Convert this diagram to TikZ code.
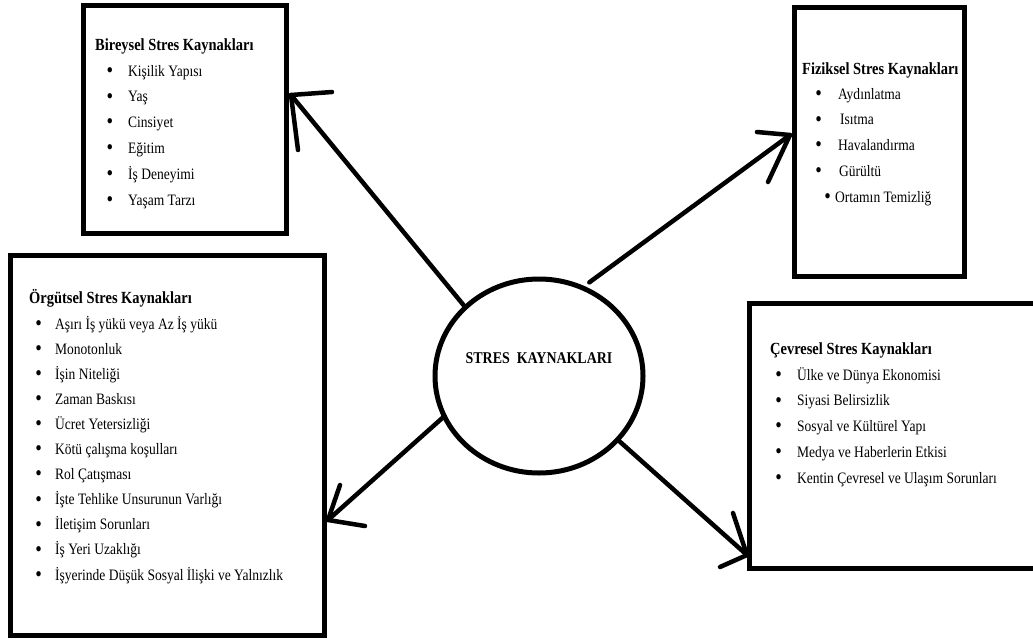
\documentclass[tikz,border=0pt]{standalone}
\usepackage{fontspec}
\setmainfont{Liberation Serif}[FakeStretch=0.85]
\newcommand{\bul}{\raisebox{-1.3pt}{\fontsize{22}{22}\selectfont •}}
\begin{document}
\begin{tikzpicture}[x=1pt,y=-1pt,
  box/.style={draw, line width=5pt, rectangle, inner sep=0pt, outer sep=0pt},
  ring/.style={draw, ellipse, line width=5pt, inner sep=0pt, outer sep=0pt},
  titletext/.style={anchor=base west, inner sep=0pt, font=\bfseries\fontsize{17}{20}\selectfont},
  itemtext/.style={anchor=base west, inner sep=0pt, font=\fontsize{15.9}{19}\selectfont},
  centertext/.style={anchor=base, inner sep=0pt, font=\bfseries\fontsize{16.4}{19}\selectfont},
  shaft/.style={line width=4.5pt, line cap=round},
  barb/.style={line width=4.5pt, line cap=round, line join=round}]
\usetikzlibrary{shapes.geometric}
\clip (0,0) rectangle (1033,640);
\fill[white] (0,0) rectangle (1033,640);

% boxes
\node[box, minimum width=202.5pt, minimum height=228pt] (b1) at (184.75,119.5) {};
\node[box, minimum width=170pt, minimum height=268.5pt] (b2) at (879.5,141.75) {};
\node[box, minimum width=314pt, minimum height=380pt] (b3) at (167.5,445.5) {};
\node[box, minimum width=295.5pt, minimum height=265pt] (b4) at (897.25,435.75) {};

% centre
\node[ring, minimum width=208pt, minimum height=194pt] (c) at (539,376) {};
\node[centertext] (ct) at (539,363) {STRES\ \ KAYNAKLARI};

% Bireysel
\node[titletext] (b1t) at (95,50) {Bireysel Stres Kaynakları};
\foreach \t [count=\i] in {Kişilik Yapısı, Yaş, Cinsiyet, Eğitim, İş Deneyimi, Yaşam Tarzı}
  \node[itemtext] (b1-\i) at (106.5,{76+25.8*(\i-1)}) {\makebox[21.5pt][l]{\bul}\t};

% Fiziksel
\node[titletext] (b2t) at (802,74) {Fiziksel Stres Kaynakları};
\foreach \bx/\w/\t [count=\i] in {815.1/22.9/Aydınlatma, 815.1/24.9/Isıtma, 815.1/22.9/Havalandırma, 815.1/23.9/Gürültü, 824.1/10.9/Ortamın Temizliğ}
  \node[itemtext] (b2-\i) at (\bx,{99+25.8*(\i-1)}) {\makebox[\w pt][l]{\bul}\t};

% Orgutsel
\node[titletext] (b3t) at (29,303) {Örgütsel Stres Kaynakları};
\foreach \t [count=\i] in {Aşırı İş yükü veya Az İş yükü, Monotonluk, İşin Niteliği, Zaman Baskısı, Ücret Yetersizliği, Kötü çalışma koşulları, Rol Çatışması, İşte Tehlike Unsurunun Varlığı, İletişim Sorunları, İş Yeri Uzaklığı, İşyerinde Düşük Sosyal İlişki ve Yalnızlık}
  \node[itemtext] (b3-\i) at (35.1,{329+25.1*(\i-1)}) {\makebox[19.9pt][l]{\bul}\t};

% Cevresel
\node[titletext] (b4t) at (770,354) {Çevresel Stres Kaynakları};
\foreach \t [count=\i] in {Ülke ve Dünya Ekonomisi, Siyasi Belirsizlik, Sosyal ve Kültürel Yapı, Medya ve Haberlerin Etkisi, Kentin Çevresel ve Ulaşım Sorunları}
  \node[itemtext] (b4-\i) at (775.1,{380+25.8*(\i-1)}) {\makebox[21.9pt][l]{\bul}\t};

% arrow tips and barb ends
\coordinate (t1) at (291,95);  \coordinate (t1a) at (332,92);  \coordinate (t1b) at (298,150);
\coordinate (t2) at (790,135); \coordinate (t2a) at (757,132); \coordinate (t2b) at (768,182);
\coordinate (t3) at (328,520); \coordinate (t3a) at (340,485); \coordinate (t3b) at (365,526);
\coordinate (t4) at (747,555); \coordinate (t4a) at (733,513); \coordinate (t4b) at (720,567);

\draw[shaft] (c.137) -- (t1);
\draw[barb] (t1a) -- (t1) -- (t1b);
\draw[shaft, shorten <=9pt] (c.64) -- (t2);
\draw[barb] (t2a) -- (t2) -- (t2b);
\draw[shaft] (c.203.6) -- (t3);
\draw[barb] (t3a) -- (t3) -- (t3b);
\draw[shaft] (c.-39.2) -- (t4);
\draw[barb] (t4a) -- (t4) -- (t4b);
\end{tikzpicture}
\end{document}
